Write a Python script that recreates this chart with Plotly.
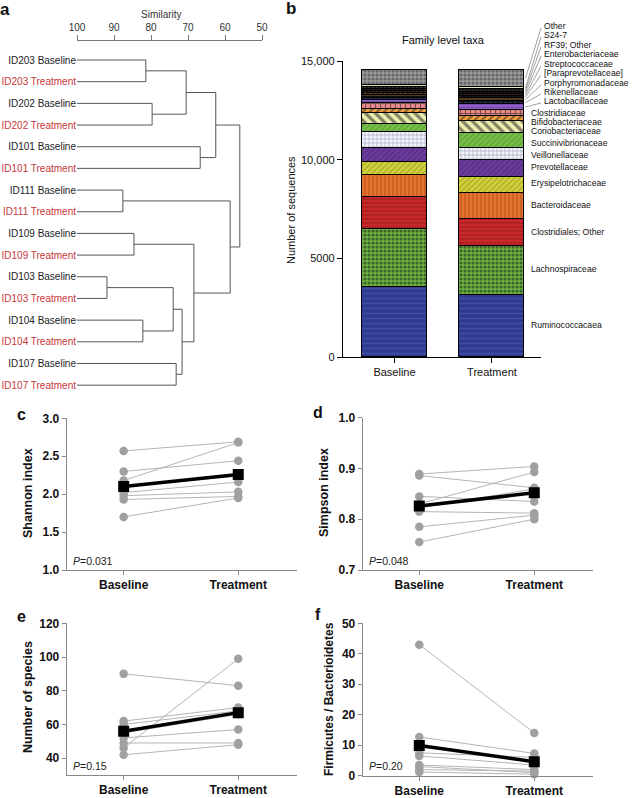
import plotly.graph_objects as go

W, H = 633, 798
FONT = "Liberation Sans, Arial, sans-serif"

# ------------------------------------------------------------------ data
leaf_labels = ["ID203 Baseline", "ID203 Treatment", "ID202 Baseline", "ID202 Treatment",
               "ID101 Baseline", "ID101 Treatment", "ID111 Baseline", "ID111 Treatment",
               "ID109 Baseline", "ID109 Treatment", "ID103 Baseline", "ID103 Treatment",
               "ID104 Baseline", "ID104 Treatment", "ID107 Baseline", "ID107 Treatment"]
# merges: node ids (leaves 0..15, merged clusters 16..)
merge_a = [0, 2, 16, 4, 18, 6, 8, 10, 12, 23, 14, 25, 22, 21, 20]
merge_b = [1, 3, 17, 5, 19, 7, 9, 11, 13, 24, 15, 26, 27, 28, 29]
merge_similarity = [81.4, 79.7, 70.5, 66.7, 62.5, 87.6, 84.6, 91.9, 82.2, 74.0, 73.2, 71.6, 68.4, 58.6, 56.0]
similarity_ticks = [100, 90, 80, 70, 60, 50]

groups = ["Baseline", "Treatment"]
families = ["Ruminococcacaea", "Lachnospiraceae", "Clostridiales; Other", "Bacteroidaceae",
            "Erysipelotrichaceae", "Prevotellaceae", "Veillonellaceae", "Succinivibrionaceae",
            "Coriobacteriaceae", "Bifidobacteriaceae", "Clostridiaceae", "Lactobacillaceae",
            "Rikenellaceae", "Porphyromonadaceae", "[Paraprevotellaceae]", "Streptococcaceae",
            "Enterobacteriaceae", "RF39; Other", "S24-7", "Other"]
baseline_counts = [3560, 2910, 1620, 1130, 680, 710, 800, 390, 540, 240, 270, 190,
                   110, 140, 90, 100, 90, 90, 126, 764]
treatment_counts = [3130, 2500, 1350, 1350, 810, 850, 610, 760, 610, 250, 300, 300,
                    150, 140, 120, 100, 120, 120, 130, 850]
seq_ticks = [0, 5000, 10000, 15000]
seq_ticktext = ["0", "5000", "10,000", "15,000"]

shannon_baseline = [2.57, 2.30, 2.18, 2.10, 2.02, 1.98, 1.93, 1.70]
shannon_treatment = [2.69, 2.44, 2.68, 2.24, 2.16, 2.03, 1.97, 1.95]
shannon_mean = [2.10, 2.26]

simpson_baseline = [0.889, 0.886, 0.845, 0.830, 0.822, 0.815, 0.785, 0.755]
simpson_treatment = [0.904, 0.862, 0.835, 0.893, 0.860, 0.812, 0.808, 0.800]
simpson_mean = [0.826, 0.852]

species_baseline = [90, 46, 62, 60, 55, 52, 49, 42]
species_treatment = [83, 99, 70, 68, 66, 57, 49, 48]
species_mean = [56, 67]

fb_baseline = [43.0, 12.7, 7.5, 6.5, 3.5, 3.0, 2.0, 1.2]
fb_treatment = [14.0, 7.3, 6.0, 3.5, 2.0, 1.0, 1.5, 0.5]
fb_mean = [9.9, 4.6]

# ------------------------------------------------------------------ styles
fam_style = [
    ("#2e3a8f", "#5060b8", "-", 5, 0.3),
    ("#6cb444", "#111111", ".", 4, 0.5),
    ("#c8282a", "#7a0e10", "-", 4, 0.3),
    ("#e8732c", "#8a3810", "|", 4, 0.3),
    ("#d2d23c", "#7a7a18", "/", 4, 0.3),
    ("#6b3c9c", "#3e1e66", "/", 4, 0.3),
    ("#f4f4fa", "#4a5a8a", "+", 4, 0.3),
    ("#78bf48", "#3f7f24", "/", 4, 0.3),
    ("#eeeeb0", "#111111", "\\", 7, 0.45),
    ("#f0a040", "#111111", "/", 5, 0.4),
    ("#e88a8a", "#111111", "+", 5, 0.4),
    ("#9060c8", "#5a3090", "-", 3, 0.3),
    ("#111111", "#4a5ab8", ".", 5, 0.4),
    ("#111111", "#c07a30", "-", 4, 0.4),
    ("#111111", "#9a9a40", ".", 5, 0.4),
    ("#111111", "#883030", ".", 4, 0.4),
    ("#111111", "#7a4a20", ".", 4, 0.4),
    ("#111111", "#555555", ".", 4, 0.4),
    ("#eeeec0", "#111111", "-", 3, 0.4),
    ("#9a9a9a", "#333333", ".", 4, 0.5),
]
label_x_px = [529] * 11 + [542] * 9
label_y_px = [325, 269, 232, 205, 183, 167, 155, 143, 131, 122, 113, 101, 92, 83, 73, 64, 54, 45, 35, 26]
RED = "#c8373a"


def dom_x(a, b):
    return [a / W, b / W]


def dom_y(top, bottom):
    return [1 - bottom / H, 1 - top / H]


fig = go.Figure()

# ------------------------------------------------------------------ panel a: dendrogram
pos = {i: float(i) for i in range(len(leaf_labels))}
hgt = {i: 100.0 for i in range(len(leaf_labels))}
lx, ly = [], []
for k, (a, b, s) in enumerate(zip(merge_a, merge_b, merge_similarity)):
    node = len(leaf_labels) + k
    lx += [hgt[a], s, s, hgt[b], None]
    ly += [pos[a], pos[a], pos[b], pos[b], None]
    pos[node] = (pos[a] + pos[b]) / 2
    hgt[node] = s
fig.add_trace(go.Scatter(x=lx, y=ly, mode="lines", line=dict(color="#555555", width=1),
                         xaxis="x", yaxis="y", showlegend=False, hoverinfo="skip"))

leaf_text = [f'<span style="color:{RED if "Treatment" in t else "#222222"}">{t}</span>'
             for t in leaf_labels]

# ------------------------------------------------------------------ panel b: stacked bars
BAR_W = 0.667
for fam, b, t, st in zip(families, baseline_counts, treatment_counts, fam_style):
    bg, fg, shp, sz, sol = st
    fig.add_trace(go.Bar(
        x=[0, 1], y=[b, t], width=BAR_W, name=fam,
        marker=dict(color=bg, line=dict(color="black", width=1.2),
                    pattern=dict(shape=shp, fgcolor=fg, bgcolor=bg, size=sz, solidity=sol)),
        xaxis="x2", yaxis="y2", showlegend=False))

BX_DOM = (343, 541)
BX_RANGE = (-0.528, 1.503)
BY_DOM = (61, 357)
BY_RANGE = (0, 15000)


def bx_px(v):
    return BX_DOM[0] + (v - BX_RANGE[0]) / (BX_RANGE[1] - BX_RANGE[0]) * (BX_DOM[1] - BX_DOM[0])


def by_px(v):
    return BY_DOM[1] - (v - BY_RANGE[0]) / (BY_RANGE[1] - BY_RANGE[0]) * (BY_DOM[1] - BY_DOM[0])


annotations = []
shapes = []
cum = 0
for i, (fam, t) in enumerate(zip(families, treatment_counts)):
    mid = cum + t / 2
    cum += t
    annotations.append(dict(x=label_x_px[i] / W, y=1 - label_y_px[i] / H, xref="paper", yref="paper",
                            text=fam, showarrow=False, xanchor="left", yanchor="middle",
                            font=dict(size=8.6, color="#111111")))
    if label_x_px[i] > 535:
        x0, y0 = label_x_px[i] - 1, label_y_px[i] + 2
        x1, y1 = bx_px(1 + BAR_W / 2) + 1, by_px(mid)
        shapes.append(dict(type="line", xref="paper", yref="paper",
                           x0=x0 / W, y0=1 - y0 / H, x1=x1 / W, y1=1 - y1 / H,
                           line=dict(color="#888888", width=0.8)))

# ------------------------------------------------------------------ panels c-f
panels = [
    ("x3", "y3", shannon_baseline, shannon_treatment, shannon_mean),
    ("x4", "y4", simpson_baseline, simpson_treatment, simpson_mean),
    ("x5", "y5", species_baseline, species_treatment, species_mean),
    ("x6", "y6", fb_baseline, fb_treatment, fb_mean),
]
for xa, ya, base, treat, mean in panels:
    for b, t in zip(base, treat):
        fig.add_trace(go.Scatter(x=[0, 1], y=[b, t], mode="lines+markers",
                                 line=dict(color="#b4b4b4", width=1),
                                 marker=dict(color="#a0a0a0", size=8.5),
                                 xaxis=xa, yaxis=ya, showlegend=False, hoverinfo="skip",
                                 cliponaxis=False))
    fig.add_trace(go.Scatter(x=[0, 1], y=mean, mode="lines+markers",
                             line=dict(color="black", width=3.5),
                             marker=dict(color="black", symbol="square", size=11),
                             xaxis=xa, yaxis=ya, showlegend=False, hoverinfo="skip"))

# ------------------------------------------------------------------ layout
gray_axis = dict(showline=True, linecolor="#888888", linewidth=1, ticks="outside", ticklen=4,
                 tickcolor="#888888", showgrid=False, zeroline=False, automargin=False,
                 tickfont=dict(size=12, color="#111111", family=FONT, weight="bold"))

layout = dict(
    width=W, height=H, margin=dict(l=0, r=0, t=0, b=0, autoexpand=False),
    paper_bgcolor="white", plot_bgcolor="white",
    font=dict(family=FONT, color="#222222"),
    barmode="stack", bargap=0,
    xaxis=dict(domain=dom_x(77, 262), range=[100, 50], side="top", anchor="y",
               tickvals=similarity_ticks, ticks="outside", ticklen=5, tickcolor="#777777",
               showline=True, linecolor="#777777", linewidth=1, showgrid=False, zeroline=False,
               automargin=False, tickfont=dict(size=10, color="#333333")),
    yaxis=dict(domain=dom_y(41, 396), range=[15.5, -0.877], anchor="x",
               tickvals=list(range(len(leaf_labels))), ticktext=leaf_text, ticks="",
               showline=False, showgrid=False, zeroline=False, automargin=False,
               tickfont=dict(size=10)),
    xaxis2=dict(domain=dom_x(*BX_DOM), range=list(BX_RANGE), anchor="y2",
                tickvals=[0, 1], ticktext=groups, ticks="outside", ticklen=5, tickcolor="black",
                showline=True, linecolor="black", linewidth=1.3, showgrid=False, zeroline=False,
                automargin=False, tickfont=dict(size=11, color="#111111")),
    yaxis2=dict(domain=dom_y(*BY_DOM), range=list(BY_RANGE), anchor="x2",
                tickvals=seq_ticks, ticktext=seq_ticktext, ticks="outside", ticklen=5,
                tickcolor="black", showline=True, linecolor="black", linewidth=1.3,
                showgrid=False, zeroline=False, automargin=False,
                tickfont=dict(size=11, color="#111111")),
    xaxis3=dict(domain=dom_x(66.7, 296.7), range=[-0.497, 1.51], anchor="y3",
                tickvals=[0, 1], ticktext=groups, **gray_axis),
    yaxis3=dict(domain=dom_y(418.3, 570), range=[1, 3], anchor="x3",
                tickvals=[1, 1.5, 2, 2.5, 3], tickformat=".1f", **gray_axis),
    xaxis4=dict(domain=dom_x(362.7, 592.7), range=[-0.492, 1.508], anchor="y4",
                tickvals=[0, 1], ticktext=groups, **gray_axis),
    yaxis4=dict(domain=dom_y(417.7, 570), range=[0.7, 1.0], anchor="x4",
                tickvals=[0.7, 0.8, 0.9, 1.0], tickformat=".1f", **gray_axis),
    xaxis5=dict(domain=dom_x(66.7, 296.7), range=[-0.497, 1.51], anchor="y5",
                tickvals=[0, 1], ticktext=groups, **gray_axis),
    yaxis5=dict(domain=dom_y(623.3, 775), range=[30, 120], anchor="x5",
                tickvals=[40, 60, 80, 100, 120], **gray_axis),
    xaxis6=dict(domain=dom_x(362.7, 592.7), range=[-0.492, 1.508], anchor="y6",
                tickvals=[0, 1], ticktext=groups, **gray_axis),
    yaxis6=dict(domain=dom_y(623.3, 775.7), range=[0, 50], anchor="x6",
                tickvals=[0, 10, 20, 30, 40, 50], **gray_axis),
)


def ann(x, y, text, size, bold=False, angle=0, xanchor="center", color="#111111"):
    t = f"<b>{text}</b>" if bold else text
    annotations.append(dict(x=x / W, y=1 - y / H, xref="paper", yref="paper", text=t,
                            showarrow=False, xanchor=xanchor, yanchor="middle", textangle=angle,
                            font=dict(size=size, color=color)))


# panel letters
ann(5, 10, "a", 17, bold=True)
ann(291, 9, "b", 17, bold=True)
ann(21, 414, "c", 16, bold=True)
ann(318, 412, "d", 16, bold=True)
ann(21, 616, "e", 16, bold=True)
ann(318, 614, "f", 16, bold=True)

# titles
ann(161, 14, "Similarity", 10, color="#333333")
ann(443, 40, "Family level taxa", 11)
ann(291, 210, "Number of sequences", 11, angle=-90)
ann(28, 493, "Shannon index", 12.5, bold=True, angle=-90)
ann(324, 493, "Simpson index", 12.5, bold=True, angle=-90)
ann(28, 697, "Number of species", 12.5, bold=True, angle=-90)
ann(329, 699, "Firmicutes / Bacterioidetes", 12, bold=True, angle=-90)

# P values
ann(71, 561, "<i>P</i>=0.031", 10.5, xanchor="left", color="#222222")
ann(367, 561, "<i>P</i>=0.048", 10.5, xanchor="left", color="#222222")
ann(71, 766, "<i>P</i>=0.15", 10.5, xanchor="left", color="#222222")
ann(367, 766, "<i>P</i>=0.20", 10.5, xanchor="left", color="#222222")

layout["annotations"] = annotations
layout["shapes"] = shapes
fig.update_layout(**layout)

fig.write_html("out.html", config={"displayModeBar": False},
               post_script="document.body.style.margin='0';")
